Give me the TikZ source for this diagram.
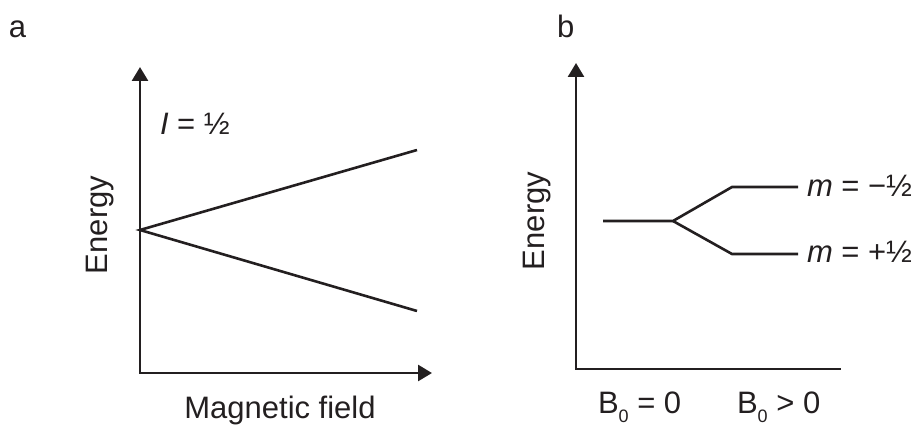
\documentclass[tikz,border=0pt]{standalone}
\usepackage{fontspec}
\setmainfont{Liberation Sans}
\usetikzlibrary{arrows.meta}
\definecolor{ink}{RGB}{35,31,32}
\newcommand\subzero{\raisebox{-9pt}{\fontsize{18}{18}\selectfont 0}}
\begin{document}
\begin{tikzpicture}[x=1pt,y=-1pt,
  >={Triangle[length=14pt,width=16pt]},
  axis/.style={line width=2.6pt, draw=ink},
  level/.style={line width=2.6pt, draw=ink},
  lbl/.style={inner sep=0pt, outer sep=0pt, text=ink, font=\fontsize{31}{37}\selectfont}]
\useasboundingbox (0,0) rectangle (918,425);
% panel labels
\node[lbl, anchor=base west] (la) at (9,38) {a};
\node[lbl, anchor=base west] (lb) at (557,38) {b};
% panel a
\coordinate (aO) at (140,373);
\coordinate (aY) at (140,67);
\coordinate (aX) at (432,373);
\draw[axis,<->] (aY) -- (aO) -- (aX);
\coordinate (aS) at (140,230);
\coordinate (aU) at (417,150);
\coordinate (aL) at (417,311);
\draw[level] (aU) -- (aS) -- (aL);
\node[lbl, anchor=base west] (spin) at (160,135) {\textit{I} = ½};
\node[lbl, rotate=90, anchor=base] (ea) at (107,225) {Energy};
\node[lbl, anchor=base] (mf) at (280,418) {Magnetic field};
% panel b
\coordinate (bO) at (576,369);
\coordinate (bY) at (576,63);
\coordinate (bX) at (841,369);
\draw[axis,<-] (bY) -- (bO) -- (bX);
\coordinate (b0) at (603,221);
\coordinate (bs) at (673,221);
\coordinate (bu1) at (732,187);
\coordinate (bl1) at (732,254);
\coordinate (bu2) at (798,187);
\coordinate (bl2) at (798,254);
\draw[level] (b0) -- (bs) -- (bu1) -- (bu2);
\draw[level] (bs) -- (bl1) -- (bl2);
\node[lbl, anchor=base west] (mminus) at (807,196) {\textit{m} = −½};
\node[lbl, anchor=base west] (mplus) at (807,262) {\textit{m} = +½};
\node[lbl, rotate=90, anchor=base] (eb) at (544,221) {Energy};
\node[lbl, anchor=base west] (bzero) at (598,413) {B\subzero\ = 0};
\node[lbl, anchor=base west] (bpos) at (737,413) {B\subzero\ > 0};
\end{tikzpicture}
\end{document}
